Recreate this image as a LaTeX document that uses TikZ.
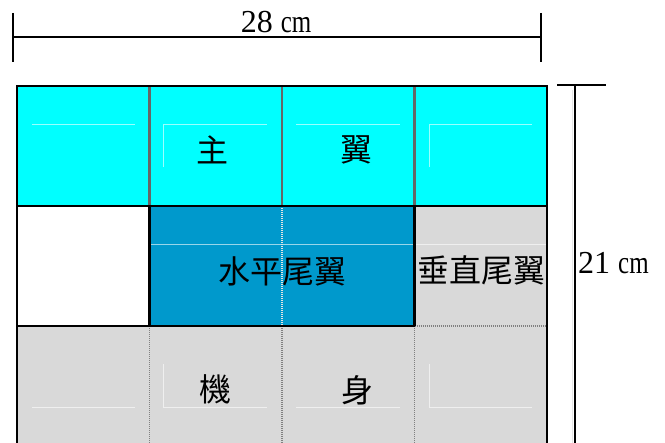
\documentclass[tikz,border=0pt]{standalone}
\usepackage{fontspec}
\setmainfont{Liberation Serif}
\newfontfamily\cjk{Noto Sans CJK TC}
\definecolor{wingcyan}{RGB}{0,255,255}
\definecolor{tailblue}{RGB}{0,153,204}
\definecolor{bodygray}{RGB}{217,217,217}
\definecolor{divgray}{RGB}{102,102,102}
\definecolor{dotgray}{RGB}{128,128,128}
\begin{document}
\begin{tikzpicture}[x=1pt,y=-1pt,
  thickblack/.style={black,line width=2.8pt},
  topdiv/.style={divgray,line width=2.2pt},
  dotdiv/.style={dotgray,line width=1.6pt,dash pattern=on 1.2pt off 0.8pt},
  lightdot/.style={white!80!gray,line width=1.4pt,dash pattern=on 1.2pt off 0.8pt},
  faint/.style={white,opacity=0.6,line width=0.6pt},
  dimline/.style={black,line width=1.6pt},
  cjklabel/.style={font=\cjk\fontsize{32}{32}\selectfont,inner sep=0pt},
  dimlabel/.style={font=\fontsize{32}{32}\selectfont,inner sep=0pt}]
\useasboundingbox (0,0) rectangle (665,443);
% fills
\fill[wingcyan] (17,86) rectangle (547,206);
\fill[white] (17,206) rectangle (149.5,326);
\fill[tailblue] (149.5,206) rectangle (414.5,326);
\fill[bodygray] (414.5,206) rectangle (547,326);
\fill[bodygray] (17,326) rectangle (547,460);
% faint placeholder lines
\draw[faint] (32,124) -- (135,124);
\draw[faint] (163,167) -- (163,124) -- (267,124);
\draw[faint] (296,124) -- (400,124);
\draw[faint] (429,167) -- (429,124) -- (532,124);
\draw[faint] (149.5,244) -- (547,244);
\draw[faint] (32,407) -- (135,407);
\draw[faint] (163,364) -- (163,407) -- (267,407);
\draw[faint] (296,407) -- (400,407);
\draw[faint] (429,364) -- (429,407) -- (532,407);
% top row dividers
\draw[topdiv] (149.5,86) -- (149.5,206);
\draw[topdiv] (282,86) -- (282,206);
\draw[topdiv] (414.5,86) -- (414.5,206);
% dotted dividers
\draw[lightdot] (282,206) -- (282,326);
\draw[dotdiv] (149.5,326) -- (149.5,460);
\draw[dotdiv] (282,326) -- (282,460);
\draw[dotdiv] (414.5,326) -- (414.5,460);
\draw[dotdiv] (414.5,326) -- (547,326);
% black lines
\draw[thickblack] (17,206) -- (547,206);
\draw[thickblack] (149.5,206) -- (149.5,326);
\draw[thickblack] (414.5,206) -- (414.5,326);
\draw[thickblack] (17,326) -- (414.5,326);
\draw[thickblack] (17,460) -- (17,86) -- (547,86) -- (547,460);
% labels
\node[cjklabel] (zhu) at (212,150) {主};
\node[cjklabel] (yi) at (356,150) {翼};
\node[cjklabel] (hstab) at (282,271) {水平尾翼};
\node[cjklabel] (vstab) at (481,270) {垂直尾翼};
\node[cjklabel] (ji) at (215,389) {機};
\node[cjklabel] (shen) at (357,390) {身};
% width dimension
\coordinate (wl) at (13,37);
\coordinate (wr) at (541,37);
\draw[dimline] (wl) -- (wr);
\draw[dimline] (13,13) -- (13,62);
\draw[dimline] (541,13) -- (541,62);
\node[dimlabel,anchor=base] (wlab) at (276,33) {28 \scalebox{0.78}[1]{cm}};
% height dimension
\coordinate (ht) at (575,85);
\coordinate (hb) at (575,460);
\draw[white!80!gray,line width=1pt] (572,90) -- (572,460);
\draw[dimline] (ht) -- (hb);
\draw[dimline] (557,85) -- (606,85);
\node[dimlabel,anchor=base west] (hlab) at (578,274) {21 \scalebox{0.78}[1]{cm}};
\end{tikzpicture}
\end{document}
